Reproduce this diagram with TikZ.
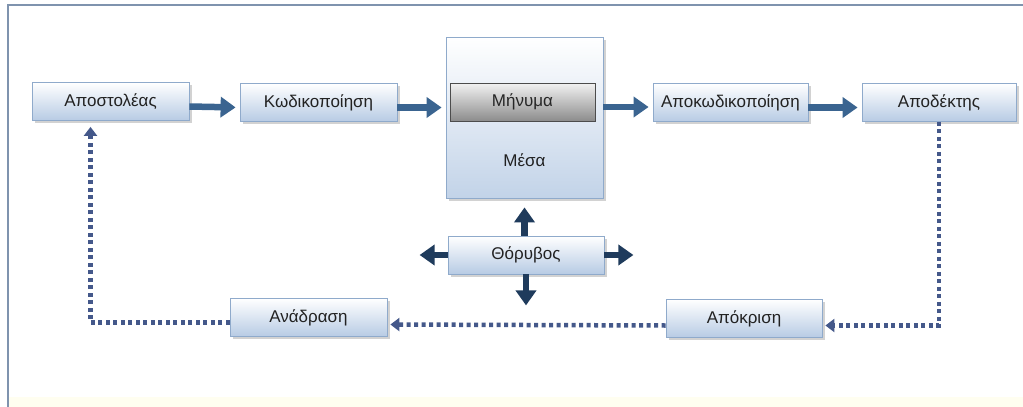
\documentclass[tikz,border=0pt]{standalone}
\usepackage{fontspec}
\setmainfont{Liberation Sans}
\usetikzlibrary{arrows.meta,shadows,calc}
\definecolor{framecol}{HTML}{7F93AE}
\definecolor{boxborder}{HTML}{8FAACB}
\definecolor{boxbottom}{HTML}{B7CBE4}
\definecolor{arrowcol}{HTML}{3A6490}
\definecolor{noisecol}{HTML}{1F3B5C}
\definecolor{dotcol}{HTML}{44588A}
\definecolor{msgtop}{HTML}{F2F2F2}
\definecolor{msgbottom}{HTML}{8C8C8C}
\definecolor{textcol}{HTML}{222222}
\tikzset{
  box/.style={draw=boxborder, line width=0.8pt, top color=white, bottom color=boxbottom,
    minimum width=#1, minimum height=38pt, inner sep=0pt, text=textcol,
    font=\fontsize{17}{20}\selectfont,
    drop shadow={shadow xshift=2.5pt, shadow yshift=-2.5pt, opacity=0.35}},
  box/.default=157pt,
  mediabox/.style={draw=boxborder, line width=0.8pt, top color=white, bottom color=boxbottom!85,
    minimum width=157pt, minimum height=161pt, inner sep=0pt,
    drop shadow={shadow xshift=2.5pt, shadow yshift=-2.5pt, opacity=0.35}},
  msgbox/.style={draw=black!70, line width=0.8pt, top color=msgtop, bottom color=msgbottom,
    minimum width=145pt, minimum height=38pt, inner sep=0pt, text=black!85,
    font=\fontsize{17}{20}\selectfont},
  flow/.style={draw=arrowcol, line width=6.5pt, -{Triangle[length=15pt,width=20pt]}, shorten >=4pt},
  noisearrow/.style={draw=noisecol, line width=6.5pt, -{Triangle[length=15pt,width=20pt]}},
  dotline/.style={draw=dotcol, line width=4.5pt, dash pattern=on 4pt off 3.5pt},
  dotarrow/.style={dotline, -{Triangle[length=9pt,width=13pt]}},
  labeltext/.style={text=textcol, font=\fontsize{17}{20}\selectfont}
}
\begin{document}
\begin{tikzpicture}[x=1pt,y=-1pt]
\useasboundingbox (0,0) rectangle (1023,407);
\fill[white] (0,0) rectangle (1023,407);
\fill[yellow!6] (9,397) rectangle (1023,407);
\draw[framecol, line width=1.3pt] (8,407) -- (8,5) -- (1023,5);

\node[mediabox] (med) at (524.5,117.5) {};
\node[labeltext] (medtxt) at (524.5,160) {Μέσα};
\node[msgbox] (msg) at (522.5,102) {Μήνυμα};

\node[box] (snd) at (110.5,101.5) {Αποστολέας};
\node[box] (enc) at (318.5,102.5) {Κωδικοποίηση};
\node[box=155pt] (dec) at (730.5,102.5) {Αποκωδικοποίηση};
\node[box=154pt] (rcv) at (939,102.5) {Αποδέκτης};
\node[box=156pt] (noise) at (526,255) {Θόρυβος};
\node[box] (fb) at (308.5,317.5) {Ανάδραση};
\node[box=156pt] (rsp) at (744,318.5) {Απόκριση};

\draw[flow] ([yshift=-5pt]snd.east) -- ([yshift=-5pt]enc.west);
\draw[flow] ([yshift=-5pt]enc.east) -- ([yshift=-5pt]enc.east -| med.west);
\draw[flow] ([yshift=-5pt]msg.east -| med.east) -- ([yshift=-5pt]msg.east -| dec.west);
\draw[flow] ([yshift=-5pt]dec.east) -- ([yshift=-5pt]rcv.west);

\draw[noisearrow, shorten >=9pt] (noise.north -| med.south) -- (med.south);
\draw[noisearrow] (noise.west) -- ++(-28,0);
\draw[noisearrow] (noise.east) -- ++(29,0);
\draw[noisearrow] (noise.south) -- ++(0,31);

\draw[dotarrow, shorten >=3pt] (rcv.south) |- ([yshift=-7pt]rsp.east);
\draw[dotarrow, shorten >=3pt] ([yshift=-7pt]rsp.west) -- ([yshift=-7pt]fb.east);
\draw[dotarrow, shorten >=6pt] ([yshift=-5pt]fb.west) -| ([xshift=-20pt]snd.south);
\end{tikzpicture}
\end{document}
